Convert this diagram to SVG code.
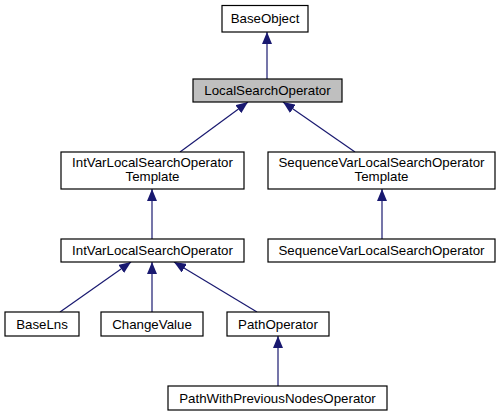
<svg xmlns="http://www.w3.org/2000/svg" width="501" height="416" viewBox="0 0 501 416">
<style>
.n rect{fill:#fff;stroke:#000;stroke-width:1.2}
.g rect{fill:#bfbfbf}
text{font-family:"Liberation Sans",Arial,sans-serif;font-size:13.3px;text-anchor:middle;fill:#000}
.e line{stroke:#191970;stroke-width:1.2}
</style>
<defs>
<marker id="a" markerWidth="12" markerHeight="10" refX="12" refY="5" orient="auto" markerUnits="userSpaceOnUse" viewBox="0 0 12 10">
<path d="M0,0 L12,5 L0,10 z" fill="#191970"/>
</marker>
</defs>
<g class="e">
<line x1="267" y1="79" x2="267" y2="32" marker-end="url(#a)"/>
<line x1="180" y1="152" x2="248" y2="102" marker-end="url(#a)"/>
<line x1="355" y1="152" x2="283" y2="102" marker-end="url(#a)"/>
<line x1="152" y1="239" x2="152" y2="189" marker-end="url(#a)"/>
<line x1="382" y1="239" x2="382" y2="189" marker-end="url(#a)"/>
<line x1="60" y1="312" x2="131" y2="262" marker-end="url(#a)"/>
<line x1="152" y1="312" x2="152" y2="262" marker-end="url(#a)"/>
<line x1="257" y1="312" x2="174" y2="262" marker-end="url(#a)"/>
<line x1="278" y1="386" x2="278" y2="336" marker-end="url(#a)"/>
</g>
<g id="BaseObject" class="n"><rect x="222" y="5.5" width="86" height="26.5"/><text x="265" y="23">BaseObject</text></g>
<g id="LocalSearchOperator" class="n g"><rect x="193" y="79" width="149" height="23"/><text x="267.5" y="95">LocalSearchOperator</text></g>
<g id="IntVarLocalSearchOperatorTemplate" class="n"><rect x="61" y="152" width="183" height="37"/><text x="152.5" y="167">IntVarLocalSearchOperator</text><text x="152.5" y="181">Template</text></g>
<g id="SequenceVarLocalSearchOperatorTemplate" class="n"><rect x="268" y="152" width="227" height="37"/><text x="381.5" y="167">SequenceVarLocalSearchOperator</text><text x="381.5" y="181">Template</text></g>
<g id="IntVarLocalSearchOperator" class="n"><rect x="61" y="239" width="183" height="23"/><text x="152.5" y="255">IntVarLocalSearchOperator</text></g>
<g id="SequenceVarLocalSearchOperator" class="n"><rect x="268" y="239" width="227" height="23"/><text x="381.5" y="255">SequenceVarLocalSearchOperator</text></g>
<g id="BaseLns" class="n"><rect x="5" y="312" width="74" height="24"/><text x="42" y="329">BaseLns</text></g>
<g id="ChangeValue" class="n"><rect x="101" y="312" width="102" height="24"/><text x="152" y="329">ChangeValue</text></g>
<g id="PathOperator" class="n"><rect x="227" y="312" width="102" height="24"/><text x="278" y="329">PathOperator</text></g>
<g id="PathWithPreviousNodesOperator" class="n"><rect x="168" y="386" width="219" height="24"/><text x="277.5" y="403">PathWithPreviousNodesOperator</text></g>
</svg>
